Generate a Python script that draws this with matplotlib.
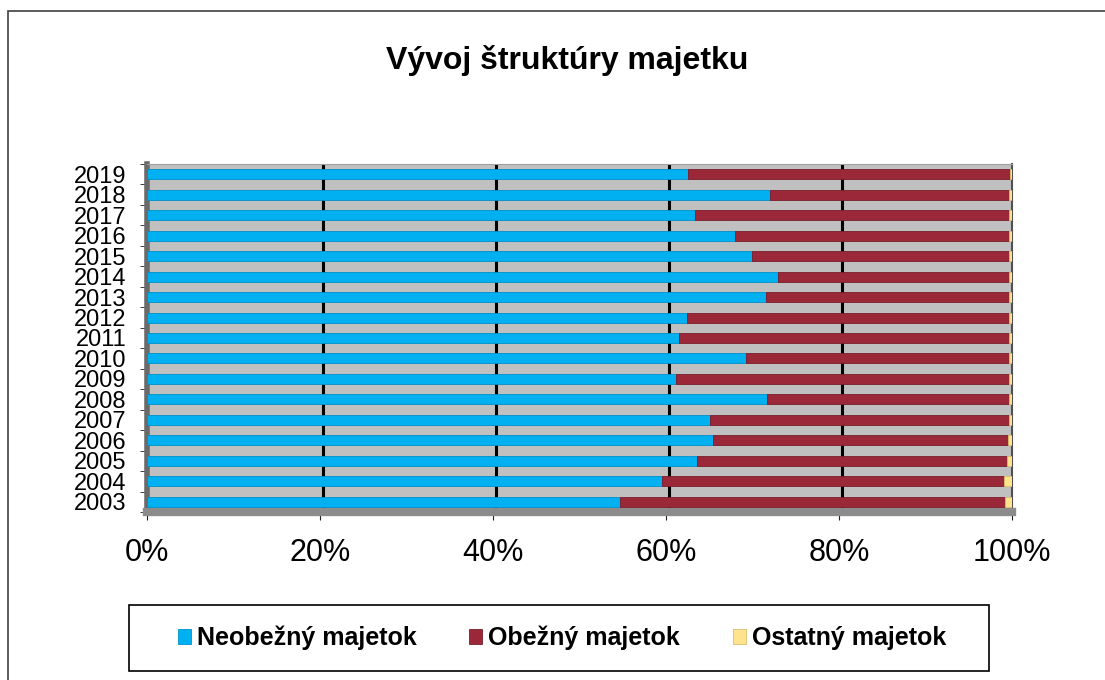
import matplotlib.pyplot as plt
import numpy as np
from matplotlib.patches import Rectangle

plt.rcParams['font.family'] = ['Liberation Sans', 'DejaVu Sans']

# Data (share of total assets, %)
years = ['2003', '2004', '2005', '2006', '2007', '2008', '2009', '2010', '2011',
         '2012', '2013', '2014', '2015', '2016', '2017', '2018', '2019']
neobezny = [54.7, 59.5, 63.6, 65.4, 65.1, 71.7, 61.2, 69.3, 61.5,
            62.4, 71.6, 72.9, 69.9, 68.0, 63.4, 72.0, 62.5]
ostatny = [0.8, 0.9, 0.6, 0.5, 0.4, 0.4, 0.4, 0.4, 0.4,
           0.4, 0.4, 0.3, 0.3, 0.3, 0.3, 0.3, 0.2]
obezny = [100 - a - c for a, c in zip(neobezny, ostatny)]

series_names = ['Neobežný majetok', 'Obežný majetok', 'Ostatný majetok']
colors = ['#00B0F0', '#9B2838', '#FFE38F']
edges = ['#0090C8', '#7A1E2C', '#D9BE6A']

W, H = 1105, 680
fig = plt.figure(figsize=(W / 100, H / 100), dpi=100)

# outer chart border
fig.patches.append(Rectangle((8 / W, -0.1), 1.2, 1 - 11 / H + 0.1,
                             transform=fig.transFigure, fill=False,
                             edgecolor='#404040', linewidth=1.2))

ax = fig.add_axes([147 / W, 1 - 512 / H, (1012 - 147) / W, (512 - 164) / H])
ax.set_facecolor('#C0C0C0')

y = np.arange(len(years))
left = np.zeros(len(years))
for vals, name, c, e in zip([neobezny, obezny, ostatny], series_names, colors, edges):
    ax.barh(y, vals, left=left, height=0.49, color=c, edgecolor=e,
            linewidth=0.6, label=name, zorder=3)
    left = left + np.array(vals)

ax.set_xlim(0, 100)
ax.set_ylim(-0.5, len(years) - 0.5)

ax.set_xticks(np.arange(0, 101, 20))
ax.set_xticklabels([f'{v}%' for v in range(0, 101, 20)], fontsize=22)
ax.tick_params(axis='x', length=6, pad=13, color='#202020')
ax.set_yticks(y)
ax.set_yticklabels(years, fontsize=17)
ax.set_yticks(np.arange(-0.5, len(years), 1), minor=True)
ax.tick_params(axis='y', which='major', length=0, pad=15)
ax.tick_params(axis='y', which='minor', length=5, color='#202020')

# gridlines on the back wall, slightly shifted like the 3D original
for xv in [20, 40, 60, 80]:
    ax.axvline(xv + 0.35, color='black', linewidth=2.2, zorder=2)

ax.spines['left'].set_color('#6A6A6A')
ax.spines['left'].set_linewidth(4)
ax.spines['bottom'].set_color('#8C8C8C')
ax.spines['bottom'].set_linewidth(6)
ax.spines['top'].set_color('#A0A0A0')
ax.spines['right'].set_color('#505050')
ax.spines['right'].set_linewidth(1.5)

fig.text(567.5 / W, 1 - 60 / H, 'Vývoj štruktúry majetku', ha='center',
         va='center', fontsize=23, fontweight='bold')

# legend box
fig.patches.append(Rectangle((129 / W, 1 - 671 / H), 860 / W, 66 / H,
                             transform=fig.transFigure, fill=False,
                             edgecolor='black', linewidth=1.2))
handles, labels = ax.get_legend_handles_labels()
leg = fig.legend(handles, labels, loc='center', ncol=3,
                 bbox_to_anchor=(562 / W, 1 - 638 / H),
                 frameon=False, prop={'size': 18, 'weight': 'bold'},
                 handlelength=0.52, handleheight=0.52, handletextpad=0.25,
                 borderaxespad=0, columnspacing=2.1)

fig.savefig('out.png', dpi=100)
